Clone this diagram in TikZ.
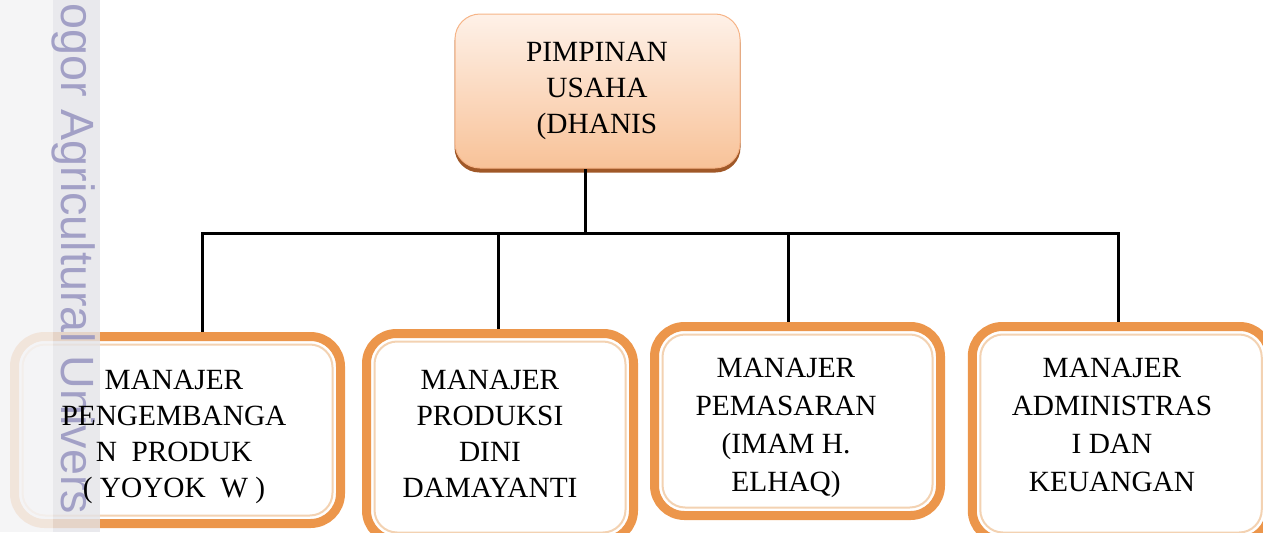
\documentclass[tikz,border=0pt]{standalone}
\usepackage{fontspec}
\setmainfont{Liberation Serif}
\newfontfamily\wmfont{Liberation Sans}
\usetikzlibrary{calc}
\pgfdeclarelayer{conn}
\pgfdeclarelayer{back}
\pgfdeclarelayer{mid}
\pgfsetlayers{conn,back,mid,main}
\definecolor{orng}{RGB}{236,150,75}
\definecolor{orngpale}{RGB}{243,210,178}
\definecolor{peachtop}{RGB}{254,241,232}
\definecolor{peachbot}{RGB}{248,194,152}
\definecolor{peachedge}{RGB}{246,180,135}
\definecolor{brownsh}{RGB}{160,88,40}
\definecolor{wmgray}{RGB}{243,243,245}
\definecolor{wmstrip}{RGB}{228,228,232}
\definecolor{wmtext}{RGB}{150,148,192}
\begin{document}
\begin{tikzpicture}[x=0.75pt,y=-0.75pt,
  mgrbox/.style={rectangle, rounded corners=22.5pt, draw=orng, line width=6.75pt, fill=white, outer sep=0pt, inner sep=0pt},
  innerline/.style={draw=orngpale, line width=1.5pt, rounded corners=17pt},
  topbox/.style={rectangle, rounded corners=18.75pt, top color=peachtop, bottom color=peachbot, draw=peachedge, line width=0.75pt, inner sep=0pt},
  boxtext/.style={font=\fontsize{22}{27}\selectfont, align=center, inner sep=0pt},
  wire/.style={line width=2.25pt, draw=black},
  wmark/.style={font=\wmfont\fontsize{35}{35}\selectfont, text=wmtext, inner sep=0pt, opacity=0.85}
]
\useasboundingbox (0,0) rectangle (1263,532);

% boxes
\begin{pgfonlayer}{back}
\begin{scope}
\clip (0,0) rectangle (1263,532);
\node[topbox, minimum width=213.75pt, minimum height=115.5pt] (b0) at (597.5,91) {};
\node[mgrbox, minimum width=244.5pt, minimum height=140.25pt] (b1) at (177.5,430) {};
\node[mgrbox, minimum width=200.25pt, minimum height=155.25pt] (b2) at (500,437) {};
\node[mgrbox, minimum width=214.5pt, minimum height=141.75pt] (b3) at (797.5,421) {};
\node[mgrbox, minimum width=223.1pt, minimum height=160.5pt] (b4) at (1121,433.5) {};
\foreach \b in {b1,b2,b3,b4}{
  \draw[innerline] ($(\b.north west)+(8,8)$) rectangle ($(\b.south east)+(-8,-8)$);
}
\end{scope}
\end{pgfonlayer}

% shadow of top box and connectors
\begin{pgfonlayer}{conn}
\begin{scope}
\clip (0,0) rectangle (1263,532);
\fill[brownsh, rounded corners=18.75pt] ($(b0.north west)+(0,4)$) rectangle ($(b0.south east)+(0,4)$);
\coordinate (j0) at (585,233);
\coordinate (j1) at (202,233);
\coordinate (j2) at (498,233);
\coordinate (j3) at (788,233);
\coordinate (j4) at (1118,233);
\draw[wire] (b0.south -| j0) -- (j0);
\draw[wire] (b1.north -| j1) -- (j1) -- (j4) -- (b4.north -| j4);
\draw[wire] (j2) -- (b2.north -| j2);
\draw[wire] (j3) -- (b3.north -| j3);
\end{scope}
\end{pgfonlayer}

% watermark
\begin{pgfonlayer}{mid}
\begin{scope}
\clip (0,0) rectangle (1263,532);
\fill[wmgray, opacity=0.85] (0,0) rectangle (53,532);
\fill[wmstrip, opacity=0.8] (53,0) rectangle (100,532);
\node[wmark, rotate=-90, anchor=base west] (wm) at (61,3) {ogor Agricultural Univers};
\end{scope}
\end{pgfonlayer}

% texts
\node[boxtext] (t0) at (597,91) {PIMPINAN\\USAHA\\(DHANIS};
\node[boxtext] (t1) at (174,437) {MANAJER\\PENGEMBANGA\\N~~PRODUK\\(~YOYOK~~W~)};
\node[boxtext] (t2) at (490,434) {MANAJER\\PRODUKSI\\DINI\\DAMAYANTI};
\node[boxtext, font=\fontsize{22}{28.5}\selectfont] (t3) at (786,428) {MANAJER\\PEMASARAN\\(IMAM H.\\ELHAQ)};
\node[boxtext, font=\fontsize{22}{28.5}\selectfont] (t4) at (1112,425) {MANAJER\\ADMINISTRAS\\I DAN\\KEUANGAN};
\end{tikzpicture}
\end{document}
